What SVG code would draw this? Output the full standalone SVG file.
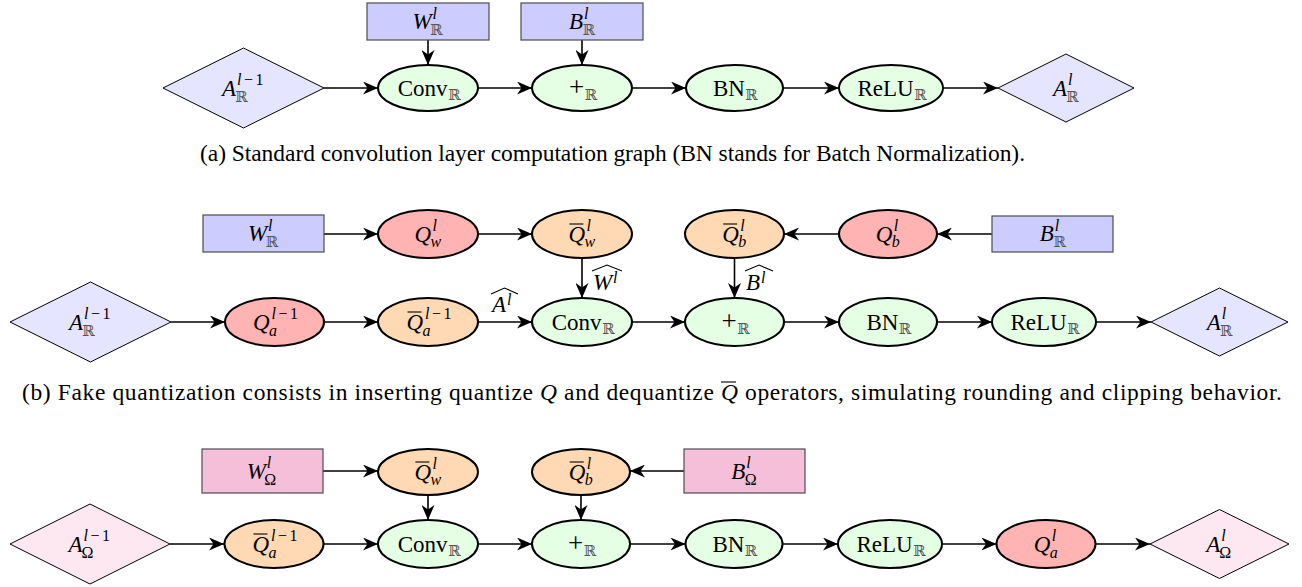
<svg xmlns="http://www.w3.org/2000/svg" width="1302" height="587" viewBox="0 0 1302 587">
<style>
.bx{fill:#ccccff;stroke:#4d4d4d;stroke-width:1.2}
.bxo{fill:#f5bfd9;stroke:#4d4d4d;stroke-width:1.2}
.dia{fill:#e5e5ff;stroke:#000;stroke-width:1}
.diao{fill:#fde8f2;stroke:#000;stroke-width:1}
.g{fill:#e5ffe5;stroke:#000;stroke-width:2}
.r{fill:#ffb3b3;stroke:#000;stroke-width:2}
.o{fill:#ffd9b3;stroke:#000;stroke-width:2}
text{font-family:'Liberation Serif','Times New Roman',serif;font-size:23px;fill:#000}
.i{font-style:italic}
.s{font-size:16px}
.pl{font-size:27px}
.bb{font-size:15px;fill:#555;font-family:'DejaVu Serif','DejaVu Sans',serif}
.cap{font-size:23.5px}
.e line{stroke:#000;stroke-width:1.6;marker-end:url(#ah)}
.bar{stroke:#000;stroke-width:1.1}
.hat{fill:none;stroke:#000;stroke-width:1.1}
</style>
<defs>
<marker id="ah" markerUnits="userSpaceOnUse" viewBox="0 0 15 13" refX="15" refY="6.5" markerWidth="15" markerHeight="13" orient="auto">
<path d="M0,0 L15,6.5 L0,13 L4.5,6.5 Z" fill="#000"/>
</marker>
</defs>

<!-- connectors -->
<g id="connectors" class="e">
<line x1="324" y1="88" x2="378" y2="88"/>
<line x1="478" y1="88" x2="532" y2="88"/>
<line x1="632" y1="88" x2="686" y2="88"/>
<line x1="783" y1="88" x2="839" y2="88"/>
<line x1="943" y1="88" x2="998" y2="88"/>
<line x1="428" y1="40" x2="428" y2="65"/>
<line x1="582" y1="40" x2="582" y2="65"/>

<line x1="324" y1="234" x2="378" y2="234"/>
<line x1="478" y1="234" x2="532" y2="234"/>
<line x1="839" y1="234" x2="784" y2="234"/>
<line x1="992" y1="234" x2="937" y2="234"/>
<line x1="582" y1="258" x2="582" y2="298"/>
<line x1="734.5" y1="258" x2="734.5" y2="298"/>
<line x1="171" y1="322" x2="225" y2="322"/>
<line x1="324" y1="322" x2="378" y2="322"/>
<line x1="478" y1="322" x2="532" y2="322"/>
<line x1="632" y1="322" x2="685" y2="322"/>
<line x1="784" y1="322" x2="839" y2="322"/>
<line x1="937" y1="322" x2="992" y2="322"/>
<line x1="1096" y1="322" x2="1151" y2="322"/>

<line x1="323" y1="471" x2="378" y2="471"/>
<line x1="684" y1="471" x2="630" y2="471"/>
<line x1="428" y1="495" x2="428" y2="520"/>
<line x1="581" y1="495" x2="581" y2="520"/>
<line x1="170" y1="544" x2="224" y2="544"/>
<line x1="323.5" y1="544" x2="378" y2="544"/>
<line x1="478" y1="544" x2="532" y2="544"/>
<line x1="630" y1="544" x2="685.5" y2="544"/>
<line x1="782.5" y1="544" x2="838" y2="544"/>
<line x1="942" y1="544" x2="996.5" y2="544"/>
<line x1="1095.5" y1="544" x2="1150" y2="544"/>
</g>

<!-- edge labels (b) -->
<g id="lbl-what">
<polyline class="hat" points="592,271 607,265 622,271"/>
<text x="593" y="290" class="i">W</text><text x="613" y="283" class="i s">l</text>
</g>
<g id="lbl-bhat">
<polyline class="hat" points="745,271 759,265 773,271"/>
<text x="746" y="290" class="i">B</text><text x="761" y="283" class="i s">l</text>
</g>
<g id="lbl-ahat">
<polyline class="hat" points="491,294 504.5,288 518,294"/>
<text x="492" y="312" class="i">A</text><text x="507" y="305" class="i s">l</text>
</g>

<!-- ===== (a) ===== -->
<g id="a-A0">
<polygon class="dia" points="163,88 243.5,48 324,88 243.5,128"/>
<text x="222" y="95.5" class="i">A</text>
<text y="85" class="s"><tspan x="237" class="i">l</tspan><tspan dx="2.5">−</tspan><tspan dx="2.5">1</tspan></text>
<text x="235" y="101.5" class="bb">ℝ</text>
</g>
<g id="a-W">
<rect class="bx" x="367" y="3" width="122" height="37"/>
<text x="412.5" y="29" class="i">W</text><text x="432.5" y="18.5" class="i s">l</text><text x="430" y="35" class="bb">ℝ</text>
</g>
<g id="a-B">
<rect class="bx" x="521" y="3" width="122" height="37"/>
<text x="569" y="29" class="i">B</text><text x="584" y="18.5" class="i s">l</text><text x="582.5" y="35" class="bb">ℝ</text>
</g>
<g id="a-conv">
<ellipse class="g" cx="428" cy="88" rx="50" ry="23"/>
<text x="397.7" y="95.5">Conv</text><text x="448" y="100" class="bb">ℝ</text>
</g>
<g id="a-plus">
<ellipse class="g" cx="582" cy="88" rx="50" ry="23"/>
<text x="569" y="96" class="pl">+</text><text x="584.5" y="100" class="bb">ℝ</text>
</g>
<g id="a-bn">
<ellipse class="g" cx="734.5" cy="88" rx="48.5" ry="23"/>
<text x="713" y="95.5">BN</text><text x="745" y="100" class="bb">ℝ</text>
</g>
<g id="a-relu">
<ellipse class="g" cx="891" cy="88" rx="52" ry="23"/>
<text x="857.5" y="95.5">ReLU</text><text x="914" y="100" class="bb">ℝ</text>
</g>
<g id="a-A1">
<polygon class="dia" points="998,88 1066,54 1134,88 1066,122"/>
<text x="1053" y="95.5" class="i">A</text><text x="1068" y="85" class="i s">l</text><text x="1066" y="101.5" class="bb">ℝ</text>
</g>

<text id="cap-a" class="cap" x="200" y="161" textLength="825">(a) Standard convolution layer computation graph (BN stands for Batch Normalization).</text>

<!-- ===== (b) ===== -->
<g id="b-W">
<rect class="bx" x="203" y="215" width="121" height="37"/>
<text x="248" y="241" class="i">W</text><text x="268" y="230.5" class="i s">l</text><text x="265.5" y="247" class="bb">ℝ</text>
</g>
<g id="b-Qw">
<ellipse class="r" cx="428" cy="234" rx="50" ry="24"/>
<text x="414.4" y="241.5" class="i">Q</text><text x="432.4" y="231" class="i s">l</text><text x="430.4" y="247" class="i s">w</text>
</g>
<g id="b-Qbw">
<ellipse class="o" cx="582" cy="234" rx="50" ry="24"/>
<line class="bar" x1="569.4" y1="224" x2="583.4" y2="224"/>
<text x="568.4" y="241.5" class="i">Q</text><text x="586.4" y="231" class="i s">l</text><text x="584.4" y="247" class="i s">w</text>
</g>
<g id="b-Qbb">
<ellipse class="o" cx="734.5" cy="234" rx="49.5" ry="24"/>
<line class="bar" x1="723.2" y1="224" x2="737.2" y2="224"/>
<text x="722.2" y="241.5" class="i">Q</text><text x="740.2" y="231" class="i s">l</text><text x="738.2" y="247" class="i s">b</text>
</g>
<g id="b-Qb">
<ellipse class="r" cx="888" cy="234" rx="49" ry="24"/>
<text x="875.7" y="241.5" class="i">Q</text><text x="893.7" y="231" class="i s">l</text><text x="891.7" y="247" class="i s">b</text>
</g>
<g id="b-B">
<rect class="bx" x="992" y="216" width="121" height="36"/>
<text x="1039.7" y="241" class="i">B</text><text x="1054.7" y="230.5" class="i s">l</text><text x="1053.2" y="247" class="bb">ℝ</text>
</g>
<g id="b-A0">
<polygon class="dia" points="10,322 90.5,282 171,322 90.5,362"/>
<text x="69" y="329.5" class="i">A</text>
<text y="319" class="s"><tspan x="84" class="i">l</tspan><tspan dx="2.5">−</tspan><tspan dx="2.5">1</tspan></text>
<text x="82" y="335.5" class="bb">ℝ</text>
</g>
<g id="b-Qa">
<ellipse class="r" cx="274.5" cy="322" rx="49.5" ry="24"/>
<text x="253" y="329.5" class="i">Q</text>
<text y="319" class="s"><tspan x="271.5" class="i">l</tspan><tspan dx="2.5">−</tspan><tspan dx="2.5">1</tspan></text>
<text x="269" y="335.5" class="i s">a</text>
</g>
<g id="b-Qba">
<ellipse class="o" cx="428" cy="322" rx="50" ry="24"/>
<line class="bar" x1="407.5" y1="312" x2="421.5" y2="312"/>
<text x="406.5" y="329.5" class="i">Q</text>
<text y="319" class="s"><tspan x="425" class="i">l</tspan><tspan dx="2.5">−</tspan><tspan dx="2.5">1</tspan></text>
<text x="422.5" y="335.5" class="i s">a</text>
</g>
<g id="b-conv">
<ellipse class="g" cx="582" cy="322" rx="50" ry="24"/>
<text x="551.7" y="329.5">Conv</text><text x="602" y="334" class="bb">ℝ</text>
</g>
<g id="b-plus">
<ellipse class="g" cx="734.5" cy="322" rx="49.5" ry="24"/>
<text x="721.5" y="330" class="pl">+</text><text x="737" y="334" class="bb">ℝ</text>
</g>
<g id="b-bn">
<ellipse class="g" cx="888" cy="322" rx="49" ry="24"/>
<text x="866.5" y="329.5">BN</text><text x="898.5" y="334" class="bb">ℝ</text>
</g>
<g id="b-relu">
<ellipse class="g" cx="1044" cy="322" rx="52" ry="24"/>
<text x="1010.5" y="329.5">ReLU</text><text x="1067" y="334" class="bb">ℝ</text>
</g>
<g id="b-A1">
<polygon class="dia" points="1151,322 1219.5,288 1288,322 1219.5,356"/>
<text x="1206.7" y="329.5" class="i">A</text><text x="1221.7" y="319" class="i s">l</text><text x="1219.7" y="335.5" class="bb">ℝ</text>
</g>

<g id="cap-b">
<text class="cap" x="22" y="400" textLength="1260">(b) Fake quantization consists in inserting quantize <tspan class="i">Q</tspan> and dequantize <tspan class="i">Q</tspan> operators, simulating rounding and clipping behavior.</text>
<line class="bar" x1="721" y1="382" x2="736" y2="382"/>
</g>

<!-- ===== (c) ===== -->
<g id="c-W">
<rect class="bxo" x="202" y="449" width="121" height="44"/>
<text x="246.7" y="478.5" class="i">W</text><text x="266.7" y="468" class="i s">l</text><text x="264.2" y="484.5" class="s">Ω</text>
</g>
<g id="c-Qbw">
<ellipse class="o" cx="428" cy="472" rx="50" ry="23"/>
<line class="bar" x1="415.4" y1="462" x2="429.4" y2="462"/>
<text x="414.4" y="479.5" class="i">Q</text><text x="432.4" y="469" class="i s">l</text><text x="430.4" y="485" class="i s">w</text>
</g>
<g id="c-Qbb">
<ellipse class="o" cx="581" cy="472" rx="49" ry="23"/>
<line class="bar" x1="569.7" y1="462" x2="583.7" y2="462"/>
<text x="568.7" y="479.5" class="i">Q</text><text x="586.7" y="469" class="i s">l</text><text x="584.7" y="485" class="i s">b</text>
</g>
<g id="c-B">
<rect class="bxo" x="684" y="449" width="121" height="44"/>
<text x="731.3" y="478.5" class="i">B</text><text x="746.3" y="468" class="i s">l</text><text x="744.8" y="484.5" class="s">Ω</text>
</g>
<g id="c-A0">
<polygon class="diao" points="10,544 90,504 170,544 90,584"/>
<text x="68.5" y="551.5" class="i">A</text>
<text y="541" class="s"><tspan x="83.5" class="i">l</tspan><tspan dx="2.5">−</tspan><tspan dx="2.5">1</tspan></text>
<text x="81.5" y="557.5" class="s">Ω</text>
</g>
<g id="c-Qba">
<ellipse class="o" cx="274" cy="544" rx="49.5" ry="24"/>
<line class="bar" x1="253.5" y1="534" x2="267.5" y2="534"/>
<text x="252.5" y="551.5" class="i">Q</text>
<text y="541" class="s"><tspan x="271" class="i">l</tspan><tspan dx="2.5">−</tspan><tspan dx="2.5">1</tspan></text>
<text x="268.5" y="557.5" class="i s">a</text>
</g>
<g id="c-conv">
<ellipse class="g" cx="428" cy="544" rx="50" ry="24"/>
<text x="397.7" y="551.5">Conv</text><text x="448" y="556" class="bb">ℝ</text>
</g>
<g id="c-plus">
<ellipse class="g" cx="581" cy="544" rx="49" ry="24"/>
<text x="568" y="552" class="pl">+</text><text x="583.5" y="556" class="bb">ℝ</text>
</g>
<g id="c-bn">
<ellipse class="g" cx="734" cy="544" rx="48.5" ry="24"/>
<text x="712.5" y="551.5">BN</text><text x="744.5" y="556" class="bb">ℝ</text>
</g>
<g id="c-relu">
<ellipse class="g" cx="890" cy="544" rx="52" ry="24"/>
<text x="856.5" y="551.5">ReLU</text><text x="913" y="556" class="bb">ℝ</text>
</g>
<g id="c-Qa">
<ellipse class="r" cx="1046" cy="544" rx="49.5" ry="24"/>
<text x="1033.7" y="551.5" class="i">Q</text><text x="1051.7" y="541" class="i s">l</text><text x="1049.7" y="557.5" class="i s">a</text>
</g>
<g id="c-A1">
<polygon class="diao" points="1150,544 1219.5,509.5 1289,544 1219.5,578.5"/>
<text x="1206.3" y="551.5" class="i">A</text><text x="1221.3" y="541" class="i s">l</text><text x="1219.3" y="557.5" class="s">Ω</text>
</g>
</svg>
